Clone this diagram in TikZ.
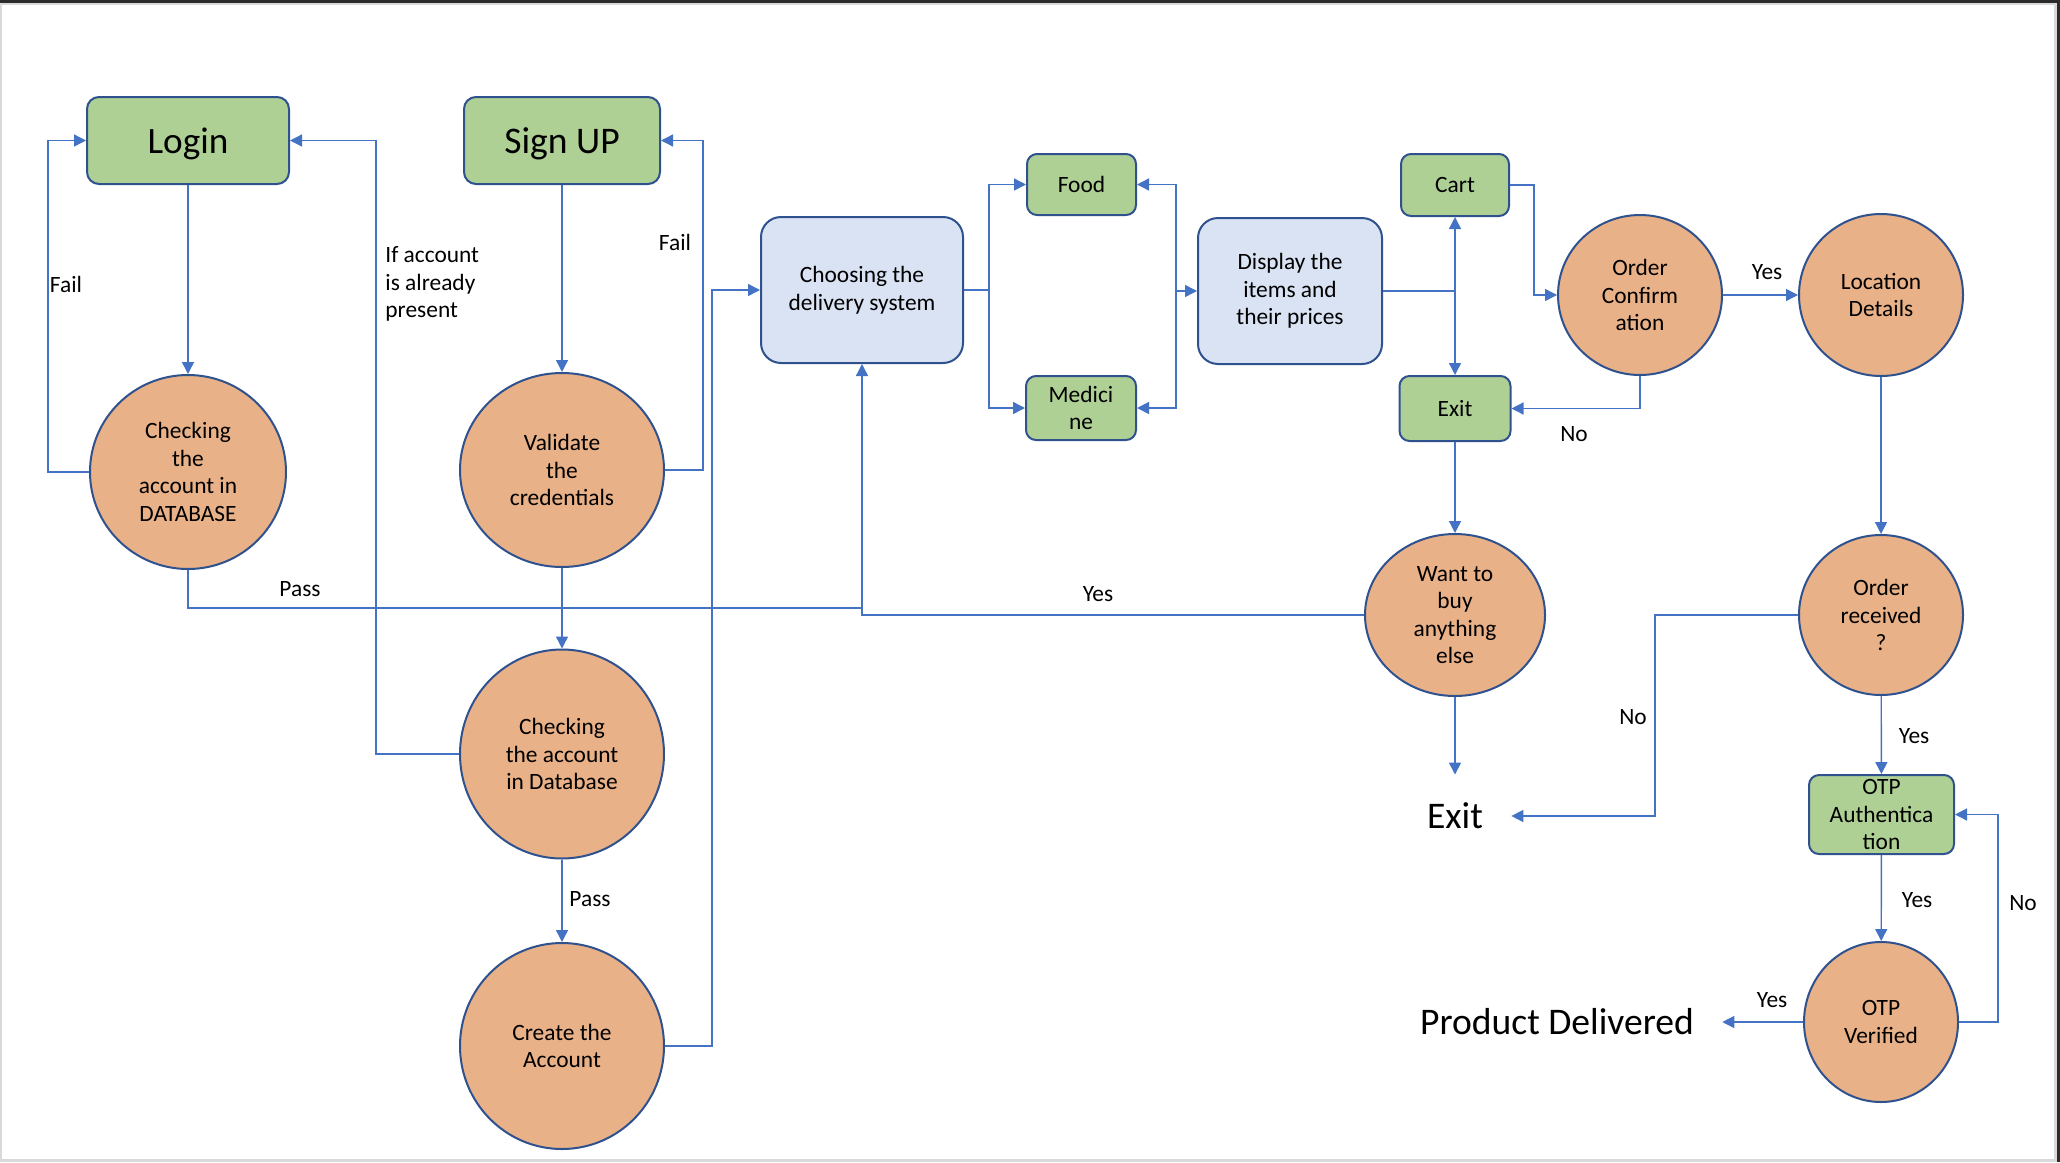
\documentclass[tikz,border=0pt]{standalone}
\usepackage{fontspec}
\setmainfont{Carlito}
\usetikzlibrary{shapes.geometric,arrows.meta}
\definecolor{gfill}{HTML}{AFD095}
\definecolor{ofill}{HTML}{E9B187}
\definecolor{bfill}{HTML}{DAE3F3}
\definecolor{bord}{HTML}{2F528F}
\definecolor{lnc}{HTML}{4472C4}
\definecolor{frame}{HTML}{2B2B2B}
\definecolor{edge}{HTML}{D9D9D9}
\begin{document}
\begin{tikzpicture}[x=0.5pt,y=-0.5pt,
  base/.style={draw=bord, line width=1pt, align=center, inner sep=0pt, font=\fontsize{11.7}{13.8}\selectfont},
  gbox/.style={base, fill=gfill, rounded corners=6pt},
  bbox/.style={base, fill=bfill, rounded corners=10pt},
  oval/.style={base, ellipse, fill=ofill},
  bigtext/.style={font=\fontsize{18.8}{22}\selectfont, inner sep=14pt},
  lbl/.style={font=\fontsize{11.7}{13.8}\selectfont, inner sep=0pt},
  conn/.style={draw=lnc, line width=0.7pt},
  arr/.style={conn, -{Triangle[length=6pt,width=6pt]}}
]
\useasboundingbox (0,0) rectangle (2060,1162);
\fill[frame] (0,0) rectangle (2060,1162);
\fill[edge] (0,3) rectangle (2057,1162);
\fill[white] (2,5) rectangle (2054,1159);

% nodes
\node[gbox, minimum width=101pt, minimum height=43.5pt, text depth=0pt, font=\fontsize{18.6}{22}\selectfont] (login) at (188,140.5) {Login};
\node[gbox, minimum width=98pt, minimum height=43.5pt, text depth=0pt, font=\fontsize{18.8}{22}\selectfont] (signup) at (562,140.5) {Sign UP};
\node[oval, minimum width=98pt, minimum height=97pt] (check1) at (188,472) {Checking\\the\\account in\\DATABASE};
\node[oval, minimum width=102pt, minimum height=97pt] (validate) at (562,470) {Validate\\the\\credentials};
\node[oval, minimum width=102pt, minimum height=104.5pt] (check2) at (562,754) {Checking\\the account\\in Database};
\node[oval, minimum width=102pt, minimum height=103pt] (create) at (562,1046) {Create the\\Account};
\node[bbox, minimum width=101pt, minimum height=73pt] (choosing) at (862,290) {Choosing the\\delivery system};
\node[gbox, rounded corners=5pt, minimum width=54.5pt, minimum height=30.5pt] (food) at (1081.5,184.5) {Food};
\node[gbox, rounded corners=5pt, minimum width=55pt, minimum height=32pt] (med) at (1081,408) {Medici\\ne};
\node[bbox, minimum width=92pt, minimum height=73pt] (display) at (1290,291) {Display the\\items and\\their prices};
\node[gbox, rounded corners=5pt, minimum width=54pt, minimum height=31pt] (cart) at (1455,185) {Cart};
\node[gbox, rounded corners=5pt, minimum width=55.5pt, minimum height=32.5pt] (exitbox) at (1455,408.5) {Exit};
\node[oval, minimum width=82pt, minimum height=80pt] (oc) at (1640,295) {Order\\Confirm\\ation};
\node[oval, minimum width=82pt, minimum height=81pt] (loc) at (1881,295) {Location\\Details};
\node[oval, minimum width=90pt, minimum height=81pt] (want) at (1455,615) {Want to\\buy\\anything\\else};
\node[oval, minimum width=82pt, minimum height=80pt] (orecv) at (1881,615) {Order\\received\\?};
\node[gbox, rounded corners=5pt, minimum width=72.5pt, minimum height=39.5pt] (otp) at (1881.5,814.5) {OTP\\Authentica\\tion};
\node[oval, minimum width=77pt, minimum height=80pt] (otpv) at (1881,1022) {OTP\\Verified};
\node[bigtext] (exittext) at (1455,816) {Exit};
\node[bigtext] (prod) at (1557,1022) {Product Delivered};

% connectors
\draw[arr] (login) -- (check1);
\draw[arr] (check1.west) -- (48,472) |- (login.west);
\draw[arr] (signup) -- (validate);
\draw[arr] (validate.east) -- (703,470) |- (signup.east);
\draw[arr] (validate) -- (check2);
\draw[arr] (check2.west) -- (376,754) |- (login.east);
\draw[arr] (check2) -- (create);
\draw[arr] (create.east) -- (712,1046) |- (choosing.west);
\draw[conn] (check1.south) |- (862,608);
\draw[arr] (want.west) -| (choosing.south);
\coordinate (cs) at (989,290);
\draw[conn] (choosing.east) -- (cs);
\draw[arr] (cs) |- (food.west);
\draw[arr] (cs) |- (med.west);
\coordinate (ds) at (1176,291);
\draw[arr] (ds) -- (display.west);
\draw[arr] (ds) |- (food.east);
\draw[arr] (ds) |- (med.east);
\coordinate (cx) at (1455,291);
\draw[conn] (display.east) -- (cx);
\draw[arr] (cx) -- (cart.south);
\draw[arr] (cx) -- (exitbox.north);
\draw[arr] (cart.east) -- (1534,185) |- (oc.west);
\draw[arr] (oc.east) -- (loc.west);
\draw[arr] (oc.south) |- (exitbox.east);
\draw[arr] (exitbox) -- (want);
\draw[arr] (want) -- (exittext);
\draw[arr] (orecv.west) -- (1655,615) |- (exittext.east);
\draw[arr] (loc) -- (orecv);
\draw[arr] (orecv) -- (otp);
\draw[arr] (otp) -- (otpv);
\draw[arr] (otpv.east) -- (1998,1022) |- (otp.east);
\draw[arr] (otpv) -- (prod);

% labels
\node[lbl] (l1) at (66,284) {Fail};
\node[lbl, align=left, anchor=west] (l2) at (385,284) {If account\\is already\\present};
\node[lbl] (l3) at (675,242) {Fail};
\node[lbl] (l4) at (300,589) {Pass};
\node[lbl] (l5) at (590,899) {Pass};
\node[lbl] (l6) at (1098,594) {Yes};
\node[lbl] (l7) at (1767,272) {Yes};
\node[lbl] (l8) at (1574,434) {No};
\node[lbl] (l9) at (1633,717) {No};
\node[lbl] (l10) at (1914,736) {Yes};
\node[lbl] (l11) at (1917,900) {Yes};
\node[lbl] (l12) at (2023,903) {No};
\node[lbl] (l13) at (1772,1000) {Yes};
\end{tikzpicture}
\end{document}
